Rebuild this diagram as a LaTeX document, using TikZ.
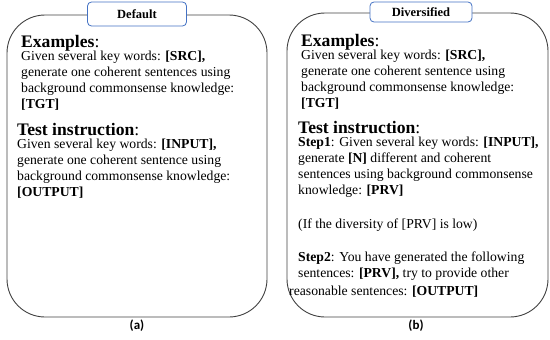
\documentclass[tikz,border=0pt]{standalone}
\usepackage{fontspec}
\setmainfont{Liberation Serif}
\newfontfamily\capfont{Carlito}
\begin{document}
\begin{tikzpicture}[x=1pt,y=-1pt,
  panel/.style={draw=black!75, line width=0.9pt, rounded corners=38pt},
  titlebox/.style={draw={rgb,255:red,68;green,114;blue,196}, fill=white, line width=0.8pt, rounded corners=4pt, minimum width=99pt, minimum height=24pt, font=\fontsize{12.5}{14}\selectfont\bfseries},
  head/.style={anchor=base west, inner sep=0pt, font=\fontsize{17.6}{19}\selectfont},
  body/.style={anchor=north west, inner sep=0pt, align=left, font=\fontsize{13.7}{15.8}\selectfont},
  bline/.style={anchor=base west, inner sep=0pt, font=\fontsize{13.7}{15.8}\selectfont},
  captext/.style={font=\capfont\bfseries\fontsize{13}{14}\selectfont}]
\useasboundingbox (0,0) rectangle (550,340);
% panels
\draw[panel] (7,15) rectangle (267,317);
\draw[panel] (287,13) rectangle (548,317);
\node[titlebox] (ta) at (137,14) {Default};
\node[titlebox, minimum width=102pt, minimum height=20pt] (tb) at (421,12) {Diversified};
% left panel
\node[head] (ea) at (21,47) {\textbf{Examples}:};
\node[body] (ba) at (21,51) {Given several key words: \textbf{[SRC],}\\generate one coherent sentences using\\background commonsense knowledge:\\\textbf{[TGT]}};
\node[head] (ia) at (17,135) {\textbf{Test instruction}:};
\node[body] (ca) at (17,139) {Given several key words: \textbf{[INPUT],}\\generate one coherent sentence using\\background commonsense knowledge:\\\textbf{[OUTPUT]}};
% right panel
\node[head] (eb) at (301,46) {\textbf{Examples}:};
\node[body] (bb) at (301,50) {Given several key words: \textbf{[SRC],}\\generate one coherent sentence using\\background commonsense knowledge:\\\textbf{[TGT]}};
\node[head] (ib) at (298,133) {\textbf{Test instruction}:};
\node[body, font=\fontsize{13.7}{16}\selectfont] (cb) at (298,137) {\textbf{Step1}: Given several key words: \textbf{[INPUT],}\\generate \textbf{[N]} different and coherent\\sentences using background commonsense\\knowledge: \textbf{[PRV]}\\[17.5pt](If the diversity of [PRV] is low)\\[17.5pt]\textbf{Step2}: You have generated the following\\sentences: \textbf{[PRV],} try to provide other};
\node[bline] (rb) at (289,295) {reasonable sentences: \textbf{[OUTPUT]}};
% captions
\node[captext] (la) at (137,326) {(a)};
\node[captext] (lb) at (416,326) {(b)};
\end{tikzpicture}
\end{document}
